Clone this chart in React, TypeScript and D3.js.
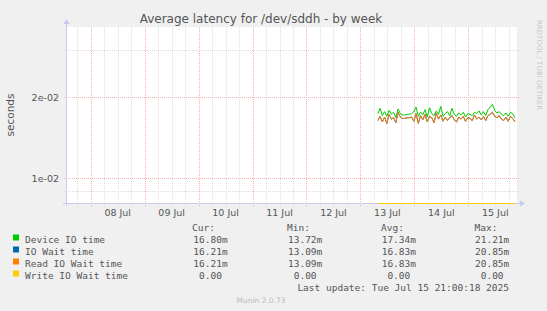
import React from "react";
import * as d3 from "d3";

const W = 547;
const H = 311;

const title = "Average latency for /dev/sddh - by week";
const yLabel = "seconds";
const dayLabels = ["08 Jul", "09 Jul", "10 Jul", "11 Jul", "12 Jul", "13 Jul", "14 Jul", "15 Jul"];
const yMajorTicks = [0.01, 0.02];
const yMajorLabels = ["1e-02", "2e-02"];
const yMinorTicks = [0.009, 0.03];

const seriesNames = ["Device IO time", "IO Wait time", "Read IO Wait time", "Write IO Wait time"];
const seriesColors = ["#00CC00", "#0066B3", "#FF8000", "#FFCC00"];
const curVals = ["16.80m", "16.21m", "16.21m", "0.00 "];
const minVals = ["13.72m", "13.09m", "13.09m", "0.00 "];
const avgVals = ["17.34m", "16.83m", "16.83m", "0.00 "];
const maxVals = ["21.21m", "20.85m", "20.85m", "0.00 "];

// hourly samples starting Jul 13 07:45 (ms)
const deviceIO = [
  17.4, 18.2, 17.1, 17.7, 17.0, 17.9, 17.3, 17.6, 16.8, 18.1, 17.4, 17.2, 17.2, 17.3, 17.3, 17.4,
  17.7, 18.4, 17.0, 17.6, 17.2, 18.0, 16.9, 18.3, 17.4, 17.1, 17.8, 17.3, 18.5, 17.0, 17.4, 17.7,
  17.1, 18.2, 17.3, 17.0, 17.5, 17.2, 17.6, 16.9, 17.4, 17.3, 17.1, 17.6, 17.4, 17.8, 17.2, 17.7,
  17.1, 18.0, 18.4, 18.8, 17.9, 17.5, 17.7, 17.3, 17.1, 17.5, 17.0, 17.6, 17.4, 16.8,
];
const ioWait = [
  16.4, 17.0, 16.2, 16.9, 16.0, 17.3, 16.6, 16.8, 16.1, 17.6, 16.9, 16.7, 16.7, 16.8, 16.8, 16.9,
  16.3, 17.4, 16.0, 17.1, 16.5, 17.3, 16.2, 17.0, 16.8, 16.1, 17.5, 16.6, 17.2, 16.3, 16.9, 16.4,
  16.8, 17.1, 16.5, 16.2, 16.9, 16.6, 17.0, 16.3, 16.8, 16.7, 16.4, 17.2, 16.6, 16.9, 16.5, 17.0,
  16.4, 17.1, 17.3, 17.6, 17.0, 16.8, 17.1, 16.6, 16.4, 16.9, 16.3, 17.0, 16.7, 16.2,
];
const readWait = ioWait;

const left = 66, right = 517, top = 27, bottom = 203;

export default function App() {
  const x = d3
    .scaleTime()
    .domain([new Date(2025, 6, 7, 13, 0), new Date(2025, 6, 15, 21, 40)])
    .range([left, right]);
  const y = d3.scaleLog().domain([0.008112, 0.03644]).range([bottom, top]);

  const start = new Date(2025, 6, 13, 7, 45);
  const times = deviceIO.map((_, i) => d3.timeHour.offset(start, i));

  const line = (vals: number[]) =>
    d3
      .line<number>()
      .x((_, i) => x(times[i]))
      .y((v) => y(v / 1000))(vals) || "";

  const minorX = d3.timeHour.every(6)!.range(x.domain()[0], x.domain()[1]).filter((d) => d.getHours() !== 0);
  const majorX = d3.timeDay.range(x.domain()[0], x.domain()[1]);
  const noon = majorX.map((d) => d3.timeHour.offset(d, 12));

  const px = (v: number) => Math.round(v) + 0.5;
  const minorColor = "#DEDEDE";
  const majorColor = "#F2B0B0";
  const axisColor = "#C8C8F4";
  const mono = "'DejaVu Sans Mono', monospace";
  const sans = "'DejaVu Sans', sans-serif";

  const rows = [239.5, 251.5, 263.5, 275.5];

  return (
    <svg width={W} height={H} style={{ position: "absolute", left: 0, top: 0 }}>
      <rect width={W} height={H} fill="#F0F0F0" />
      <rect x={left} y={top} width={right - left} height={bottom - top} fill="#FFFFFF" />
      <text x={261} y={23} textAnchor="middle" fontFamily={sans} fontSize={12} fill="#555">
        {title}
      </text>
      <text
        transform="translate(537,20) rotate(90)"
        fontFamily={sans}
        fontSize={7}
        fill="#C8C8C8"
      >
        RRDTOOL / TOBI OETIKER
      </text>
      {/* grid */}
      {minorX.map((d, i) => (
        <line key={"mx" + i} x1={px(x(d))} x2={px(x(d))} y1={top} y2={bottom + 3} stroke={minorColor} strokeDasharray="1,1" />
      ))}
      {yMinorTicks.map((v, i) => (
        <line key={"my" + i} x1={left - 2} x2={right + 2} y1={px(y(v))} y2={px(y(v))} stroke={minorColor} strokeDasharray="1,1" />
      ))}
      {majorX.map((d, i) => (
        <line key={"MX" + i} x1={px(x(d))} x2={px(x(d))} y1={top} y2={bottom + 3} stroke={majorColor} strokeDasharray="1,1" />
      ))}
      {yMajorTicks.map((v, i) => (
        <line key={"MY" + i} x1={left - 2} x2={right + 2} y1={px(y(v))} y2={px(y(v))} stroke={majorColor} strokeDasharray="1,1" />
      ))}
      {/* axes */}
      <line x1={px(left)} x2={px(left)} y1={bottom + 3} y2={top - 4} stroke={axisColor} />
      <path d={`M${left - 2.5},${top - 3} L${left + 3.5},${top - 3} L${left + 0.5},${top - 8} Z`} fill={axisColor} />
      <line x1={left - 3} x2={right + 4} y1={px(bottom)} y2={px(bottom)} stroke={axisColor} />
      <path d={`M${right + 3},${bottom - 2.5} L${right + 3},${bottom + 3.5} L${right + 8},${bottom + 0.5} Z`} fill={axisColor} />
      {/* write io wait (zero) drawn along bottom */}
      <line x1={x(times[0])} x2={x(times[times.length - 1])} y1={px(bottom)} y2={px(bottom)} stroke={seriesColors[3]} />
      {/* series */}
      <path d={line(deviceIO)} fill="none" stroke={seriesColors[0]} strokeWidth={1} />
      <path d={line(ioWait)} fill="none" stroke={seriesColors[1]} strokeWidth={1} />
      <path d={line(readWait)} fill="none" stroke={seriesColors[2]} strokeWidth={1} />
      {/* y labels */}
      {yMajorTicks.map((v, i) => (
        <text key={"yl" + i} x={59} y={y(v) + 3.5} textAnchor="end" fontFamily={sans} fontSize={9.5} fill="#555">
          {yMajorLabels[i]}
        </text>
      ))}
      <text transform="translate(14,115) rotate(-90)" textAnchor="middle" fontFamily={sans} fontSize={10.5} fill="#555">
        {yLabel}
      </text>
      {/* x labels */}
      {noon.map((d, i) =>
        i < dayLabels.length ? (
          <text key={"xl" + i} x={x(d)} y={216} textAnchor="middle" fontFamily={sans} fontSize={9.5} fill="#555">
            {dayLabels[i]}
          </text>
        ) : null
      )}
      {/* legend */}
      {["Cur:", "Min:", "Avg:", "Max:"].map((h, i) => (
        <text key={"h" + i} x={[215, 310, 404, 497.5][i]} y={230.5} textAnchor="end" fontFamily={mono} fontSize={9.5} fill="#555">
          {h}
        </text>
      ))}
      {seriesNames.map((n, i) => (
        <g key={"lg" + i}>
          <rect x={13} y={rows[i] - 5} width={6} height={6} fill={seriesColors[i]} />
          <text x={25} y={rows[i] + 3} fontFamily={mono} fontSize={9.5} fill="#555">
            {n}
          </text>
          {[curVals, minVals, avgVals, maxVals].map((arr, j) => (
            <text
              key={j}
              x={[227.7, 322.3, 416, 509.3][j]}
              y={rows[i] + 3}
              textAnchor="end"
              fontFamily={mono}
              fontSize={9.5}
              fill="#555"
              style={{ whiteSpace: "pre" }}
            >
              {arr[i]}
            </text>
          ))}
        </g>
      ))}
      <text x={509} y={291} textAnchor="end" fontFamily={mono} fontSize={9.5} fill="#555">
        Last update: Tue Jul 15 21:00:18 2025
      </text>
      <text x={261} y={303} textAnchor="middle" fontFamily={sans} fontSize={7.5} fill="#BBBBBB">
        Munin 2.0.73
      </text>
    </svg>
  );
}
